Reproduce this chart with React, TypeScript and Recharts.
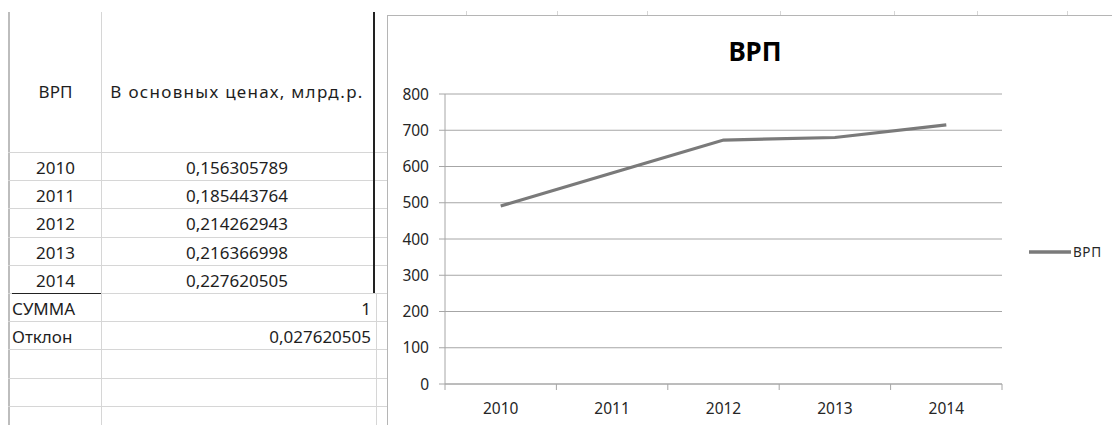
import { LineChart, Line, XAxis, YAxis, CartesianGrid } from "recharts"

// table on the left (values as in the sheet)
const years = ["2010", "2011", "2012", "2013", "2014"]
const shares = ["0,156305789", "0,185443764", "0,214262943", "0,216366998", "0,227620505"]
const summaryLabels = ["СУММА", "Отклон"]
const summaryValues = ["1", "0,027620505"]

// chart series
const seriesName = "ВРП"
const vrp = [491, 582, 673, 680, 715]
const yTicks = [0, 100, 200, 300, 400, 500, 600, 700, 800]

const data = years.map((year, i) => ({ year, vrp: vrp[i] }))

const FONT = '"Noto Sans", sans-serif'
const GRID = "#a6a6a6"
const LINE = "#7a7a7a"
const SHEET_LINE = "#d6d6d6"
const ROW_H = 28.2
const FIRST_ROW = 152
const TICK = 6

// sheet column separators peeking above the chart
const sheetCols = [466, 557, 647, 780, 894, 977, 1067]

// eslint-disable-next-line @typescript-eslint/no-explicit-any
function YearTick({ x, y, payload, index, visibleTicksCount }: any) {
  const half = payload?.offset ?? 0
  const axisY = y - TICK
  return (
    <g>
      <line x1={x - half} y1={axisY} x2={x - half} y2={axisY + TICK} stroke={GRID} />
      {index === visibleTicksCount - 1 && (
        <line x1={x + half} y1={axisY} x2={x + half} y2={axisY + TICK} stroke={GRID} />
      )}
      <text x={x} y={axisY + 30} textAnchor="middle" fill="#262626" fontSize={15.5} fontFamily={FONT}>
        {payload.value}
      </text>
    </g>
  )
}

function Cell({ left, width, top, align, children }: {
  left: number; width: number; top: number; align: "left" | "center" | "right"; children: React.ReactNode
}) {
  return (
    <div
      style={{
        position: "absolute",
        left,
        width,
        top,
        height: ROW_H,
        lineHeight: `${ROW_H + 3}px`,
        textAlign: align,
        fontSize: 17,
        fontFamily: FONT,
        color: "#1e1e1e",
        whiteSpace: "nowrap",
      }}
    >
      {children}
    </div>
  )
}

export default function App() {
  const rowLines = Array.from({ length: 10 }, (_, i) => FIRST_ROW + i * ROW_H)
  return (
    <div style={{ position: "fixed", left: 0, top: 0, width: 1112, height: 425, background: "#fff", overflow: "hidden" }}>
      {/* sheet grid */}
      <div style={{ position: "absolute", left: 8, top: 12, width: 2, height: 413, background: "#bdbdbd" }} />
      <div style={{ position: "absolute", left: 101, top: 12, width: 1, height: 413, background: SHEET_LINE }} />
      <div style={{ position: "absolute", left: 376, top: 293, width: 1, height: 132, background: SHEET_LINE }} />
      {rowLines.map((y) => (
        <div key={y} style={{ position: "absolute", left: 8, top: Math.round(y), width: 379, height: 1, background: SHEET_LINE }} />
      ))}
      <div style={{ position: "absolute", left: 373, top: 12, width: 2, height: 281, background: "#222" }} />
      <div style={{ position: "absolute", left: 12, top: Math.round(FIRST_ROW + 5 * ROW_H), width: 89, height: 1, background: "#222" }} />
      {sheetCols.map((x) => (
        <div key={x} style={{ position: "absolute", left: x, top: 11, width: 1, height: 4, background: SHEET_LINE }} />
      ))}

      {/* header */}
      <Cell left={10} width={91} top={76} align="center">ВРП</Cell>
      <Cell left={101} width={272} top={76} align="center">
        <span style={{ letterSpacing: 1.3 }}>В основных ценах, млрд.р.</span>
      </Cell>

      {years.map((y, i) => (
        <Cell key={y} left={10} width={91} top={FIRST_ROW + i * ROW_H} align="center">{y}</Cell>
      ))}
      {shares.map((s, i) => (
        <Cell key={s} left={101} width={272} top={FIRST_ROW + i * ROW_H} align="center">{s}</Cell>
      ))}
      {summaryLabels.map((s, i) => (
        <Cell key={s} left={12} width={89} top={FIRST_ROW + (5 + i) * ROW_H} align="left">{s}</Cell>
      ))}
      {summaryValues.map((s, i) => (
        <Cell key={s} left={101} width={270} top={FIRST_ROW + (5 + i) * ROW_H} align="right">{s}</Cell>
      ))}

      {/* chart area border */}
      <div style={{ position: "absolute", left: 387, top: 15, width: 725, height: 1, background: "#b5b5b5" }} />
      <div style={{ position: "absolute", left: 387, top: 15, width: 1, height: 410, background: "#b5b5b5" }} />

      <div
        style={{
          position: "absolute",
          left: 655,
          width: 200,
          top: 38,
          textAlign: "center",
          fontSize: 26,
          lineHeight: 1,
          fontWeight: 700,
          fontFamily: FONT,
          color: "#000",
        }}
      >
        ВРП
      </div>

      <div style={{ position: "absolute", left: 387, top: 15 }}>
        <LineChart width={725} height={410} data={data} margin={{ top: 79, right: 110, bottom: 0, left: 0 }}>
          <CartesianGrid vertical={false} stroke={GRID} strokeWidth={1} />
          <XAxis
            dataKey="year"
            scale="band"
            height={41}
            stroke={GRID}
            tickLine={false}
            tickSize={TICK}
            tickMargin={0}
            interval={0}
            tick={<YearTick />}
          />
          <YAxis
            width={58}
            domain={[0, 800]}
            ticks={yTicks}
            interval={0}
            stroke={GRID}
            tickSize={6}
            tickMargin={10}
            tick={{ fill: "#262626", fontSize: 15.5, fontFamily: FONT }}
          />
          <Line
            type="linear"
            dataKey="vrp"
            name={seriesName}
            stroke={LINE}
            strokeWidth={3.2}
            dot={false}
            activeDot={false}
            isAnimationActive={false}
          />
        </LineChart>
      </div>

      {/* legend */}
      <div style={{ position: "absolute", left: 1029, top: 243, display: "flex", alignItems: "center" }}>
        <svg width={42} height={8}>
          <line x1={0} y1={4} x2={42} y2={4} stroke={LINE} strokeWidth={3.5} />
        </svg>
        <span style={{ fontSize: 13.5, fontFamily: FONT, color: "#262626", marginLeft: 2, letterSpacing: 0.6 }}>
          {seriesName}
        </span>
      </div>
    </div>
  )
}
